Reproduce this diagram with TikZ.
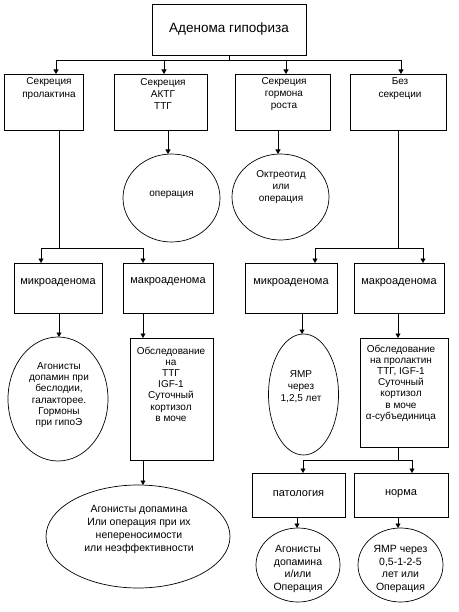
\documentclass[tikz,border=0pt]{standalone}
\usepackage{fontspec}
\setmainfont{Liberation Sans}
\usetikzlibrary{arrows.meta,shapes.geometric}
\newcommand\myfs[2]{\fontsize{#1}{#2}\selectfont}
\begin{document}
\begin{tikzpicture}[x=1pt,y=-1pt,
  box/.style={draw,line width=0.8pt,rectangle,inner sep=0pt},
  oval/.style={draw,line width=0.7pt,ellipse,inner sep=0pt},
  txt/.style={align=center,inner sep=0pt,font=\myfs{10}{12}},
  ln/.style={line width=0.8pt},
  arr/.style={line width=0.8pt,-{Triangle[length=4.5pt,width=5pt]}},
]
\useasboundingbox (0,0) rectangle (458,612);
% top
\node[box,minimum width=154pt,minimum height=51pt,font=\myfs{13.5}{16}] (top) at (229,29.5) {Аденома гипофиза};
% row 2
\node[box,minimum width=79pt,minimum height=56pt] (b1) at (43.5,102) {};
\node[txt,font=\myfs{10}{12.5}] (t1) at (49,88.5) {Секреция\\пролактина};
\node[box,minimum width=93pt,minimum height=56pt] (b2) at (160.5,102) {};
\node[txt,font=\myfs{10}{12}] (t2) at (163,94.5) {Секреция\\АКТГ\\ТТГ};
\node[box,minimum width=95pt,minimum height=56pt] (b3) at (282.5,102) {};
\node[txt,font=\myfs{10}{12}] (t3) at (284,94.5) {Секреция\\гормона\\роста};
\node[box,minimum width=96pt,minimum height=56pt] (b4) at (398,102) {};
\node[txt,font=\myfs{10}{12.5}] (t4) at (400,88.5) {Без\\секреции};
% connectors top
\coordinate (j0) at (229,60);
\coordinate (b1in) at (56,74);
\coordinate (b2in) at (164,74);
\coordinate (b3in) at (286,74);
\coordinate (b4in) at (401,74);
\draw[ln] (top.south) -- (j0);
\draw[arr] (j0) -| (b1in);
\draw[arr] (j0) -| (b2in);
\draw[arr] (j0) -| (b3in);
\draw[arr] (j0) -| (b4in);
% circles
\node[oval,minimum width=97pt,minimum height=88pt] (op) at (171.5,198) {};
\node[txt] (optxt) at (171.5,195) {операция};
\node[oval,minimum width=97pt,minimum height=86pt] (okt) at (280.5,197) {};
\node[txt,font=\myfs{10}{12}] (okttxt) at (281,187) {Октреотид\\или\\операция};
\coordinate (b2out) at (168,130);
\coordinate (opin) at (168,154);
\coordinate (b3out) at (278,130);
\coordinate (oktin) at (278,154);
\draw[arr] (b2out) -- (opin);
\draw[arr] (b3out) -- (oktin);
% row 3 boxes
\node[box,minimum width=88pt,minimum height=50pt] (m1) at (58,288) {};
\node[txt,font=\myfs{11}{13}] (m1t) at (58,283) {микроаденома};
\node[box,minimum width=90pt,minimum height=50pt] (M1) at (168,288) {};
\node[txt,font=\myfs{11}{13}] (M1t) at (168,282) {макроаденома};
\node[box,minimum width=92pt,minimum height=50pt] (m2) at (291,288) {};
\node[txt,font=\myfs{11}{13}] (m2t) at (291,283) {микроаденома};
\node[box,minimum width=90pt,minimum height=50pt] (M2) at (399,288) {};
\node[txt,font=\myfs{11}{13}] (M2t) at (399,283) {макроаденома};
\coordinate (b1out) at (59,130);
\coordinate (j1) at (59,248);
\coordinate (m1in) at (41,263);
\coordinate (M1in) at (143,263);
\draw[ln] (b1out) -- (j1);
\draw[arr] (j1) -| (m1in);
\draw[arr] (j1) -| (M1in);
\coordinate (b4out) at (398,130);
\coordinate (j2) at (398,248);
\coordinate (m2in) at (315,263);
\coordinate (M2in) at (423,263);
\draw[ln] (b4out) -- (j2);
\draw[arr] (j2) -| (m2in);
\draw[arr] (j2) -| (M2in);
% row 4
\node[oval,minimum width=100pt,minimum height=124pt] (e1) at (58,399) {};
\node[txt,font=\myfs{10}{11.3}] (e1t) at (59,395) {Агонисты\\допамин при\\беслодии,\\галакторее.\\Гормоны\\при гипоЭ};
\node[box,minimum width=83pt,minimum height=122pt] (o1) at (171.5,399) {};
\node[txt,font=\myfs{10}{11.2}] (o1t) at (171,384) {Обследование\\на\\ТТГ\\IGF-1\\Суточный\\кортизол\\в моче};
\node[oval,minimum width=70pt,minimum height=121pt] (e3) at (303.5,394.5) {};
\node[txt,font=\myfs{10}{12}] (e3t) at (301,387) {ЯМР\\через\\1,2,5 лет};
\node[box,minimum width=88pt,minimum height=109pt] (o2) at (404,392.5) {};
\node[txt,font=\myfs{10}{11.2}] (o2t) at (401,383) {Обследование\\на пролактин\\ТТГ, IGF-1\\Суточный\\кортизол\\в моче\\α-субъединица};
\coordinate (m1out) at (59,313);
\coordinate (e1in) at (59,337);
\coordinate (M1out) at (143,313);
\coordinate (o1in) at (143,338);
\coordinate (m2out) at (302,313);
\coordinate (e3in) at (302,334);
\coordinate (M2out) at (398,313);
\coordinate (o2in) at (398,338);
\draw[arr] (m1out) -- (e1in);
\draw[arr] (M1out) -- (o1in);
\draw[arr] (m2out) -- (e3in);
\draw[arr] (M2out) -- (o2in);
% big ellipse
\node[oval,minimum width=184pt,minimum height=103pt] (e2) at (138,536.5) {};
\node[txt,font=\myfs{10.5}{13}] (e2t) at (139,529) {Агонисты допамина\\Или операция при их\\непереносимости\\или неэффективности};
\coordinate (o1out) at (143,460);
\coordinate (e2in) at (143,485);
\draw[arr] (o1out) -- (e2in);
% patho / norma
\node[box,minimum width=93pt,minimum height=44pt] (p) at (298.5,495) {};
\node[txt,font=\myfs{11}{13}] (pt) at (298.5,494) {патология};
\node[box,minimum width=94pt,minimum height=44pt] (n) at (401,495) {};
\node[txt,font=\myfs{11}{13}] (nt) at (401,494) {норма};
\coordinate (o2out) at (398,447);
\coordinate (j3) at (398,460);
\coordinate (pin) at (303,473);
\coordinate (nin) at (412,473);
\draw[ln] (o2out) -- (j3);
\draw[arr] (j3) -| (pin);
\draw[arr] (j3) -| (nin);
\node[oval,minimum width=84pt,minimum height=74pt] (e4) at (298,565) {};
\node[txt,font=\myfs{10.5}{12.5}] (e4t) at (298,569) {Агонисты\\допамина\\и/или\\Операция};
\node[oval,minimum width=85pt,minimum height=74pt] (e5) at (400.5,565) {};
\node[txt,font=\myfs{10.5}{12.5}] (e5t) at (400.5,569) {ЯМР через\\0,5-1-2-5\\лет или\\Операция};
\coordinate (pout) at (297,517);
\coordinate (e4in) at (297,528);
\coordinate (nout) at (398,517);
\coordinate (e5in) at (398,528);
\draw[arr] (pout) -- (e4in);
\draw[arr] (nout) -- (e5in);
\end{tikzpicture}
\end{document}
